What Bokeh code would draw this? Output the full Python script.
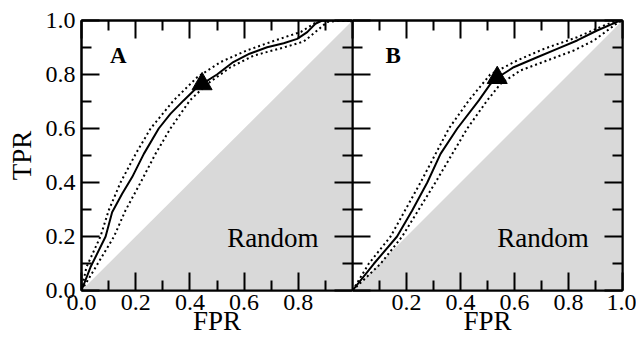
from bokeh.plotting import figure
from bokeh.models import LinearAxis, FixedTicker, PrintfTickFormatter, Range1d
from bokeh.layouts import row
from bokeh.embed import file_html
from bokeh.resources import INLINE
from bokeh.core.properties import value

FONT = "Liberation Serif"

# ---- data ----
MAJOR = [0.0, 0.2, 0.4, 0.6, 0.8, 1.0]
MINOR = [0.1, 0.3, 0.5, 0.7, 0.9]
A_X_TICKS = [0.0, 0.2, 0.4, 0.6, 0.8]
B_X_TICKS = [0.2, 0.4, 0.6, 0.8, 1.0]

RANDOM_X = [0.0, 1.0, 1.0]
RANDOM_Y = [0.0, 0.0, 1.0]

A_SOLID_X = [0.0, 0.033, 0.089, 0.113, 0.15, 0.187, 0.23, 0.285, 0.328, 0.377, 0.427, 0.45, 0.50, 0.56, 0.62, 0.685, 0.746, 0.796, 0.833, 0.863, 0.888, 1.0]
A_SOLID_Y = [0.0, 0.086, 0.2, 0.29, 0.358, 0.42, 0.506, 0.6, 0.654, 0.704, 0.753, 0.768, 0.80, 0.846, 0.877, 0.901, 0.916, 0.932, 0.957, 0.988, 1.0, 1.0]
A_UP_X = [0.0, 0.018, 0.07, 0.10, 0.144, 0.2, 0.255, 0.34, 0.427, 0.513, 0.61, 0.72, 0.81, 0.857, 0.88, 1.0]
A_UP_Y = [0.0, 0.086, 0.2, 0.296, 0.4, 0.506, 0.6, 0.704, 0.79, 0.846, 0.889, 0.928, 0.958, 0.988, 1.0, 1.0]
A_LO_X = [0.0, 0.052, 0.12, 0.162, 0.218, 0.273, 0.328, 0.4, 0.464, 0.55, 0.635, 0.746, 0.82, 0.87, 0.906, 0.95, 1.0]
A_LO_Y = [0.0, 0.086, 0.2, 0.296, 0.4, 0.506, 0.6, 0.704, 0.765, 0.827, 0.87, 0.9, 0.922, 0.963, 0.994, 1.0, 1.0]
A_MARK_X = [0.445]
A_MARK_Y = [0.765]

B_SOLID_X = [0.0, 0.079, 0.165, 0.221, 0.277, 0.326, 0.388, 0.468, 0.511, 0.536, 0.597, 0.684, 0.758, 0.832, 0.906, 0.98, 1.0]
B_SOLID_Y = [0.0, 0.099, 0.2, 0.296, 0.4, 0.506, 0.6, 0.704, 0.765, 0.788, 0.827, 0.864, 0.895, 0.926, 0.963, 0.995, 1.0]
B_UP_X = [0.0, 0.06, 0.141, 0.252, 0.357, 0.431, 0.51, 0.61, 0.709, 0.832, 0.93, 0.98, 1.0]
B_UP_Y = [0.0, 0.099, 0.2, 0.4, 0.6, 0.704, 0.8, 0.852, 0.895, 0.938, 0.981, 1.0, 1.0]
B_LO_X = [0.0, 0.104, 0.184, 0.307, 0.425, 0.499, 0.548, 0.622, 0.721, 0.82, 0.894, 0.98, 1.0]
B_LO_Y = [0.0, 0.099, 0.2, 0.4, 0.6, 0.704, 0.765, 0.815, 0.852, 0.889, 0.926, 0.99, 1.0]
B_MARK_X = [0.536]
B_MARK_Y = [0.788]

PANEL_LABELS = ["A", "B"]
LABEL_POS_X = [0.105, 0.122]
LABEL_POS_Y = [0.87, 0.87]
RANDOM_TEXT_X = [0.875]
RANDOM_TEXT_Y = [0.193]

TICK_FONT = "24px"
AXIS_FONT = "27px"


def style_axis(ax, ticks, show_labels):
    ax.ticker = FixedTicker(ticks=ticks, minor_ticks=MINOR)
    ax.formatter = PrintfTickFormatter(format="%.1f")
    ax.major_tick_in = 18
    ax.major_tick_out = 0
    ax.minor_tick_in = 10
    ax.minor_tick_out = 0
    ax.major_tick_line_width = 2
    ax.minor_tick_line_width = 2
    ax.major_tick_line_color = "black"
    ax.minor_tick_line_color = "black"
    ax.axis_line_width = 2
    ax.axis_line_color = "black"
    ax.major_label_text_font = FONT
    ax.major_label_text_color = "black"
    if show_labels:
        ax.major_label_text_font_size = TICK_FONT
    else:
        ax.major_label_overrides = {t: "" for t in ticks}
        ax.major_label_text_font_size = "2px"
        ax.major_label_standoff = 0


def make_panel(width, bl, br, x_ticks, show_y, name, sx, sy, ux, uy, lx, ly, mx, my, lab_x, lab_y):
    p = figure(width=width, height=344, x_range=Range1d(0, 1), y_range=Range1d(0, 1),
               output_backend="svg", toolbar_location=None,
               min_border_left=bl, min_border_right=br, min_border_top=20, min_border_bottom=54)
    p.grid.visible = False
    p.outline_line_color = "black"
    p.outline_line_width = 2
    p.background_fill_color = "white"
    p.border_fill_color = "white"

    xb = p.xaxis[0]
    style_axis(xb, x_ticks, True)
    xb.major_label_standoff = 4
    xb.axis_label = "FPR"
    xb.axis_label_standoff = -7
    xb.axis_label_text_font = FONT
    xb.axis_label_text_font_size = AXIS_FONT
    xb.axis_label_text_font_style = "normal"
    xb.axis_label_text_color = "black"

    yl = p.yaxis[0]
    style_axis(yl, MAJOR, show_y)
    if show_y:
        yl.major_label_standoff = 6
        yl.axis_label = "TPR"
        yl.axis_label_standoff = 6
        yl.axis_label_text_font = FONT
        yl.axis_label_text_font_size = AXIS_FONT
        yl.axis_label_text_font_style = "normal"
        yl.axis_label_text_color = "black"

    top = LinearAxis()
    style_axis(top, MAJOR, False)
    p.add_layout(top, "above")
    right = LinearAxis()
    style_axis(right, MAJOR, False)
    p.add_layout(right, "right")

    p.patch(RANDOM_X, RANDOM_Y, fill_color="#d9d9d9", line_color=None)
    p.line(ux, uy, line_color="black", line_width=2, line_dash="2 3")
    p.line(lx, ly, line_color="black", line_width=2, line_dash="2 3")
    p.line(sx, sy, line_color="black", line_width=2)
    p.scatter(mx, my, marker="triangle", size=20, fill_color="black", line_color="black")

    p.text(x=RANDOM_TEXT_X, y=RANDOM_TEXT_Y, text=["Random"], text_font=value(FONT),
           text_font_size="27px", text_align="right", text_baseline="middle", text_color="black")
    p.text(x=[lab_x], y=[lab_y], text=[name], text_font=value(FONT), text_font_style="bold",
           text_font_size="23px", text_align="left", text_baseline="middle", text_color="black")
    return p


pa = make_panel(352, 81, 0, A_X_TICKS, True, PANEL_LABELS[0],
                A_SOLID_X, A_SOLID_Y, A_UP_X, A_UP_Y, A_LO_X, A_LO_Y, A_MARK_X, A_MARK_Y,
                LABEL_POS_X[0], LABEL_POS_Y[0])
pb = make_panel(284, 0, 14, B_X_TICKS, False, PANEL_LABELS[1],
                B_SOLID_X, B_SOLID_Y, B_UP_X, B_UP_Y, B_LO_X, B_LO_Y, B_MARK_X, B_MARK_Y,
                LABEL_POS_X[1], LABEL_POS_Y[1])

layout = row(pa, pb)
open("out.html", "w").write(file_html(layout, INLINE))
